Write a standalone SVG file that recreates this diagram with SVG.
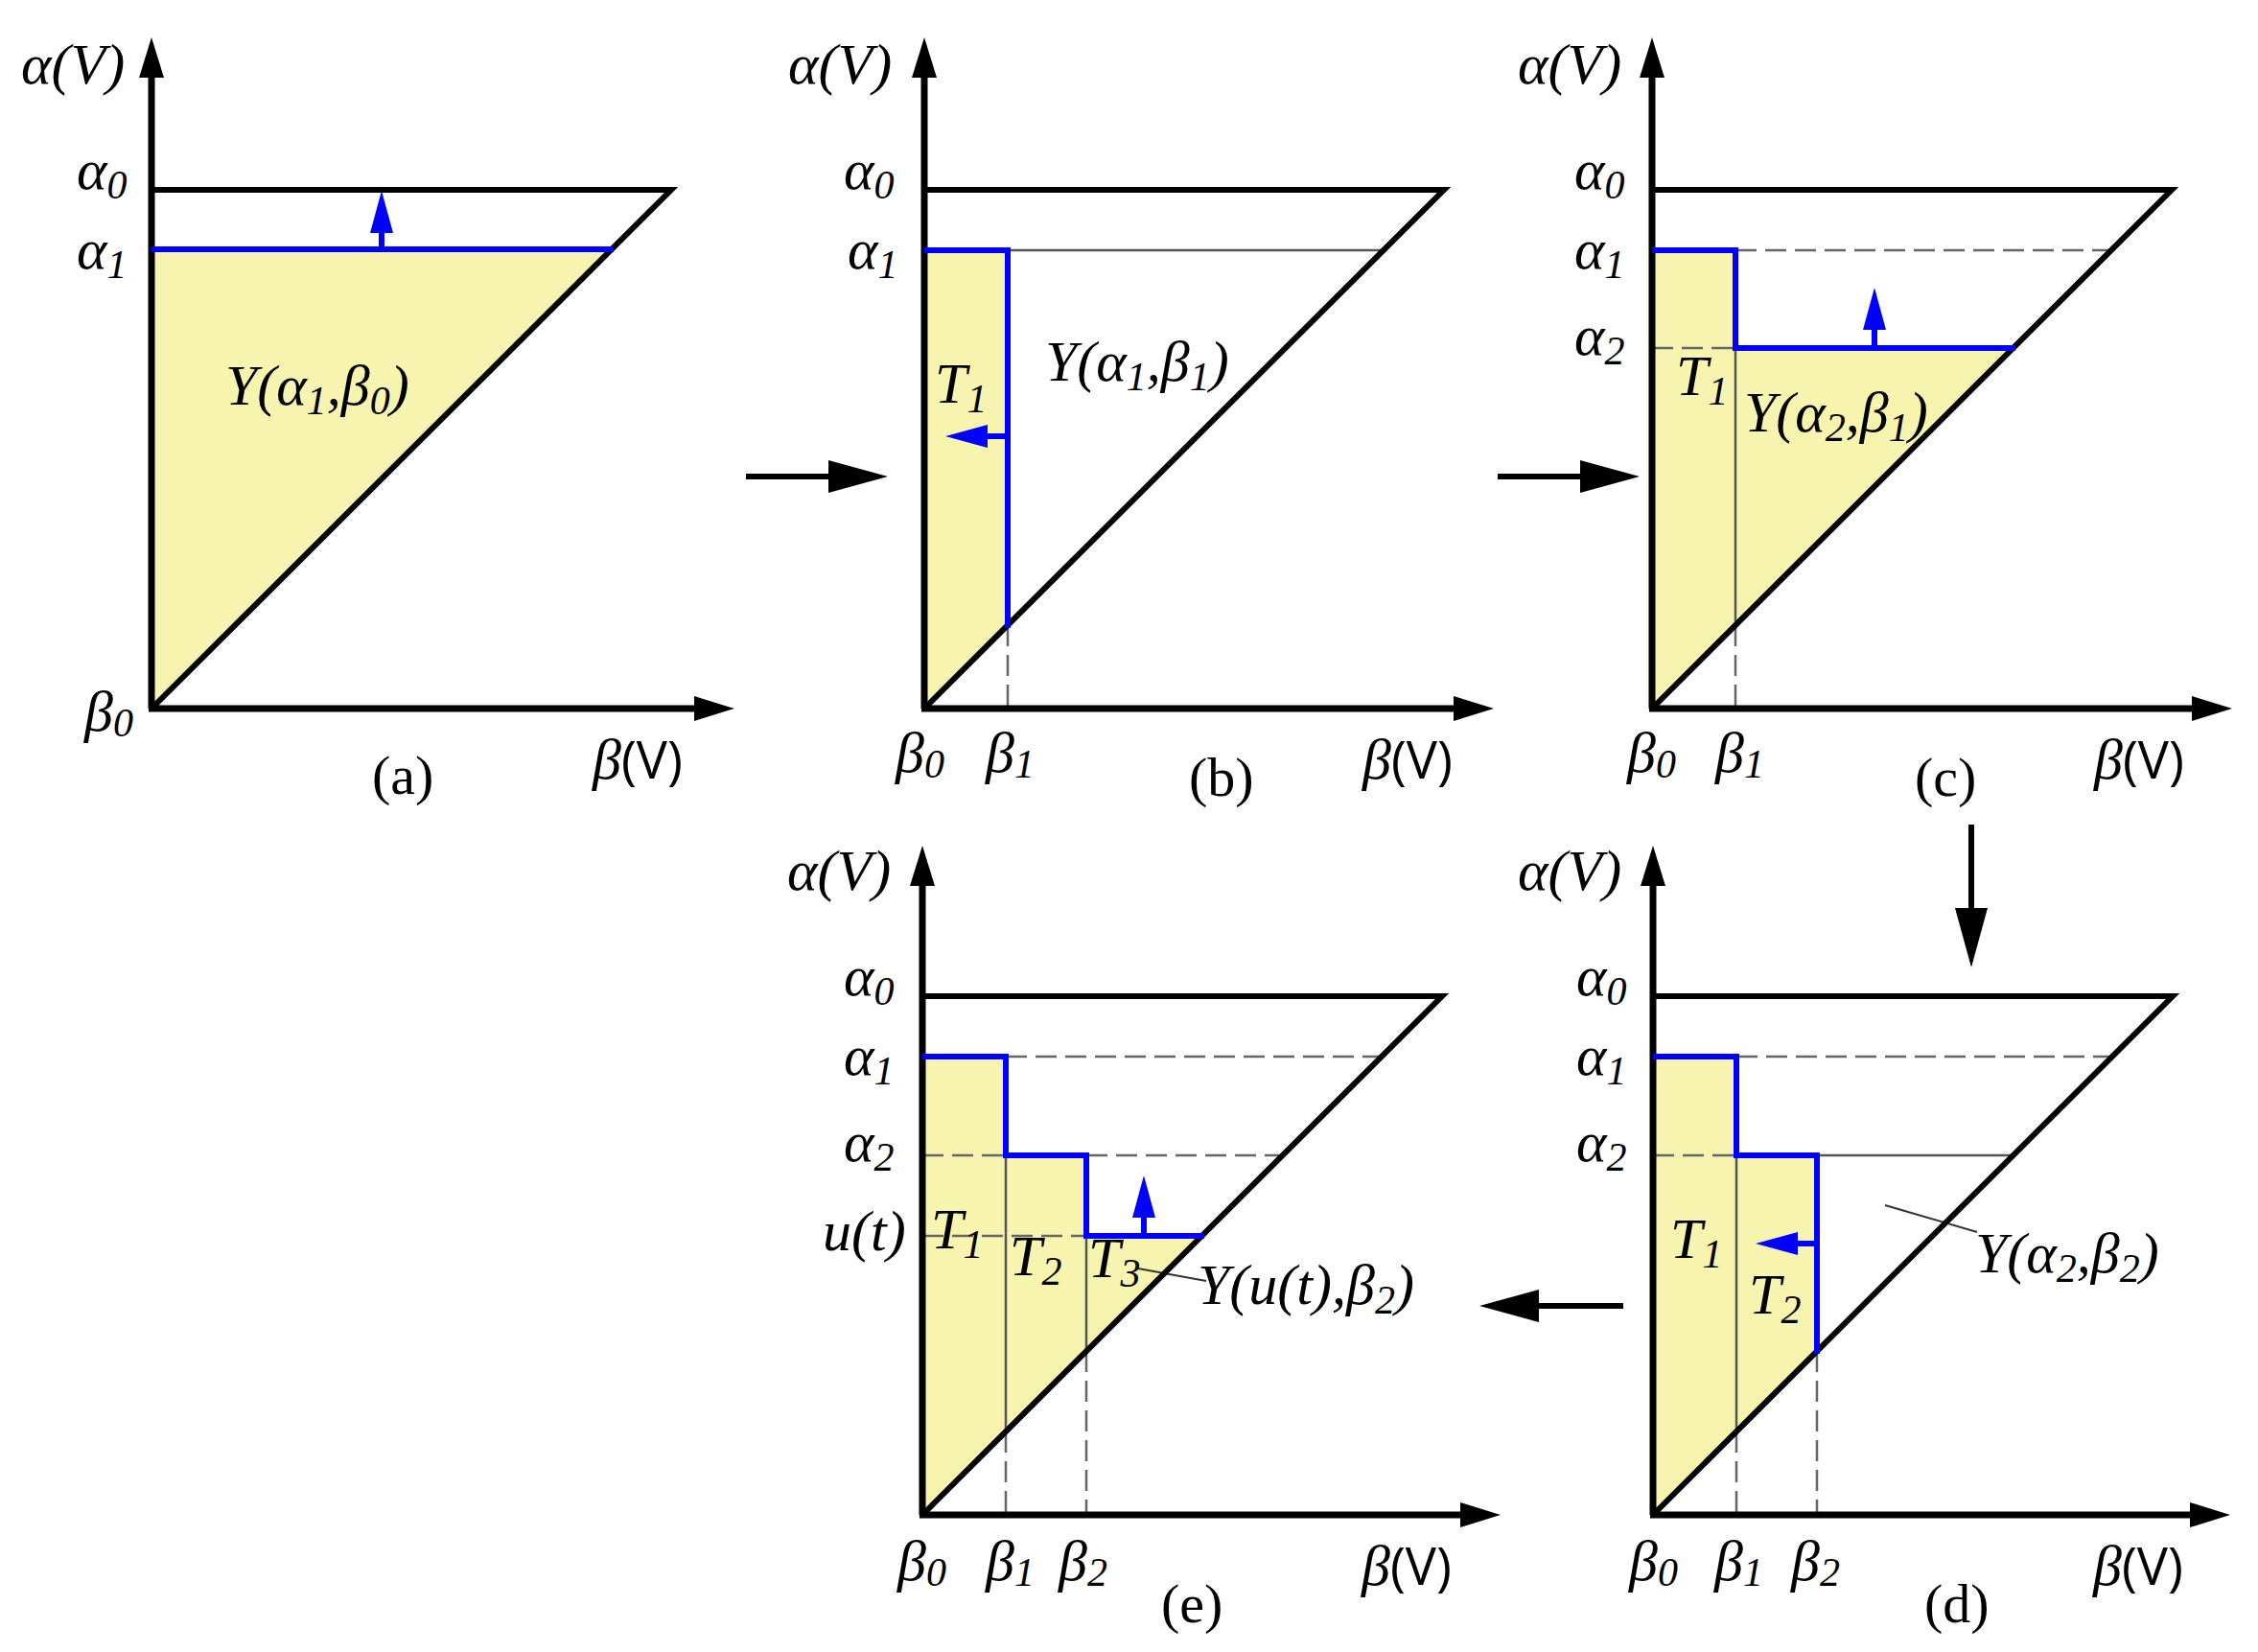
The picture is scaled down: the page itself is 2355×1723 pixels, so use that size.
<svg xmlns="http://www.w3.org/2000/svg" width="2355" height="1723" viewBox="0 0 2355 1723">
<style>
.bg{fill:#fff}
.fill{fill:#F7F4AF;stroke:none}
.ax{fill:none;stroke:#000;stroke-width:7}
.tri{fill:none;stroke:#000;stroke-width:6;stroke-linejoin:miter;stroke-miterlimit:20}
.blue{fill:none;stroke:#0000FF;stroke-width:6;stroke-linejoin:miter;stroke-linecap:square}
.barr{fill:none;stroke:#0000FF;stroke-width:6}
.dash{fill:none;stroke:#666;stroke-width:2.5;stroke-dasharray:22 9}
.thin{fill:none;stroke:#555;stroke-width:2.5}
.lead{fill:none;stroke:#333;stroke-width:2}
.flow{fill:none;stroke:#000;stroke-width:6}
.m{font-family:"Liberation Serif",serif;font-style:italic;font-size:60px;fill:#000}
.s{font-size:42px}
.v{font-family:"Open Sans","Liberation Sans",sans-serif;font-style:normal;font-size:54px}
.lab{font-family:"Liberation Serif",serif;font-size:58px;fill:#000}
</style>
<defs>
<marker id="axh" markerUnits="userSpaceOnUse" markerWidth="42" markerHeight="26" refX="2" refY="13" orient="auto"><path d="M0,0 L42,13 L0,26 z" fill="#000"/></marker>
<marker id="bh" markerUnits="userSpaceOnUse" markerWidth="44" markerHeight="24" refX="2" refY="12" orient="auto"><path d="M0,0 L44,12 L0,24 z" fill="#0000FF"/></marker>
<marker id="fh" markerUnits="userSpaceOnUse" markerWidth="62" markerHeight="34" refX="2" refY="17" orient="auto"><path d="M0,0 L62,17 L0,34 z" fill="#000"/></marker>
</defs>
<rect class="bg" x="0" y="0" width="2355" height="1723"/>

<g id="panel-a">
<polygon class="fill" points="158,260 637,260 158,739"/>
<path class="tri" d="M158,198 H700 L158,739"/>
<line class="ax" x1="158" y1="739" x2="158" y2="79" marker-end="url(#axh)"/>
<line class="ax" x1="155" y1="739" x2="726" y2="739" marker-end="url(#axh)"/>
<line class="blue" x1="161" y1="260" x2="637" y2="260"/>
<line class="barr" x1="398" y1="260" x2="398" y2="241" marker-end="url(#bh)"/>
<text class="m" x="22" y="87">α(V)</text>
<text class="m" x="80" y="197">α<tspan class="s" dy="10">0</tspan></text>
<text class="m" x="80" y="280">α<tspan class="s" dy="10">1</tspan></text>
<text class="m" x="235" y="422">Υ(α<tspan class="s" dy="10">1</tspan><tspan dy="-10">,β</tspan><tspan class="s" dy="10">0</tspan><tspan dy="-10">)</tspan></text>
<text class="m" x="88" y="762">β<tspan class="s" dy="6">0</tspan></text>
<text class="m" x="618" y="812">β<tspan class="v">(V)</tspan></text>
<text class="lab" x="388" y="828">(a)</text>
</g>

<g id="panel-b">
<polygon class="fill" points="964,261 1051,261 1051,652 964,739"/>
<line class="thin" x1="1051" y1="261" x2="1442" y2="261"/>
<line class="dash" x1="1051" y1="652" x2="1051" y2="739"/>
<path class="tri" d="M964,198 H1506 L964,739"/>
<line class="ax" x1="964" y1="739" x2="964" y2="79" marker-end="url(#axh)"/>
<line class="ax" x1="961" y1="739" x2="1518" y2="739" marker-end="url(#axh)"/>
<polyline class="blue" points="967,261 1051,261 1051,652"/>
<line class="barr" x1="1051" y1="455" x2="1028" y2="455" marker-end="url(#bh)"/>
<text class="m" x="822" y="87">α(V)</text>
<text class="m" x="880" y="197">α<tspan class="s" dy="10">0</tspan></text>
<text class="m" x="884" y="280">α<tspan class="s" dy="10">1</tspan></text>
<text class="m" x="975" y="420">T<tspan class="s" dy="10">1</tspan></text>
<text class="m" x="1090" y="397">Υ(α<tspan class="s" dy="10">1</tspan><tspan dy="-10">,β</tspan><tspan class="s" dy="10">1</tspan><tspan dy="-10">)</tspan></text>
<text class="m" x="934" y="805">β<tspan class="s" dy="6">0</tspan></text>
<text class="m" x="1028" y="805">β<tspan class="s" dy="6">1</tspan></text>
<text class="m" x="1421" y="812">β<tspan class="v">(V)</tspan></text>
<text class="lab" x="1240" y="830">(b)</text>
</g>

<g id="panel-c">
<polygon class="fill" points="1723,261 1810,261 1810,363 2099,363 1723,739"/>
<line class="dash" x1="1810" y1="261" x2="2201" y2="261"/>
<line class="dash" x1="1723" y1="363" x2="1810" y2="363"/>
<line class="thin" x1="1810" y1="363" x2="1810" y2="652"/>
<line class="dash" x1="1810" y1="652" x2="1810" y2="739"/>
<path class="tri" d="M1723,198 H2265 L1723,739"/>
<line class="ax" x1="1723" y1="739" x2="1723" y2="79" marker-end="url(#axh)"/>
<line class="ax" x1="1720" y1="739" x2="2288" y2="739" marker-end="url(#axh)"/>
<polyline class="blue" points="1726,261 1810,261 1810,363 2099,363"/>
<line class="barr" x1="1955" y1="363" x2="1955" y2="342" marker-end="url(#bh)"/>
<text class="m" x="1583" y="87">α(V)</text>
<text class="m" x="1642" y="197">α<tspan class="s" dy="10">0</tspan></text>
<text class="m" x="1642" y="280">α<tspan class="s" dy="10">1</tspan></text>
<text class="m" x="1642" y="370">α<tspan class="s" dy="10">2</tspan></text>
<text class="m" x="1748" y="412">T<tspan class="s" dy="10">1</tspan></text>
<text class="m" x="1819" y="450">Υ(α<tspan class="s" dy="10">2</tspan><tspan dy="-10">,β</tspan><tspan class="s" dy="10">1</tspan><tspan dy="-10">)</tspan></text>
<text class="m" x="1697" y="805">β<tspan class="s" dy="6">0</tspan></text>
<text class="m" x="1789" y="805">β<tspan class="s" dy="6">1</tspan></text>
<text class="m" x="2184" y="812">β<tspan class="v">(V)</tspan></text>
<text class="lab" x="1997" y="830">(c)</text>
</g>

<g id="panel-d">
<polygon class="fill" points="1724,1102 1811,1102 1811,1205 1895,1205 1895,1409 1724,1580"/>
<line class="dash" x1="1811" y1="1102" x2="2202" y2="1102"/>
<line class="dash" x1="1724" y1="1205" x2="1811" y2="1205"/>
<line class="thin" x1="1895" y1="1205" x2="2099" y2="1205"/>
<line class="thin" x1="1811" y1="1205" x2="1811" y2="1493"/>
<line class="dash" x1="1811" y1="1493" x2="1811" y2="1580"/>
<line class="dash" x1="1895" y1="1409" x2="1895" y2="1580"/>
<line class="lead" x1="1966" y1="1257" x2="2062" y2="1285"/>
<path class="tri" d="M1724,1039 H2266 L1724,1580"/>
<line class="ax" x1="1724" y1="1580" x2="1724" y2="922" marker-end="url(#axh)"/>
<line class="ax" x1="1721" y1="1580" x2="2286" y2="1580" marker-end="url(#axh)"/>
<polyline class="blue" points="1727,1102 1811,1102 1811,1205 1895,1205 1895,1409"/>
<line class="barr" x1="1895" y1="1297" x2="1873" y2="1297" marker-end="url(#bh)"/>
<text class="m" x="1583" y="928">α(V)</text>
<text class="m" x="1644" y="1038">α<tspan class="s" dy="10">0</tspan></text>
<text class="m" x="1644" y="1121">α<tspan class="s" dy="10">1</tspan></text>
<text class="m" x="1644" y="1211">α<tspan class="s" dy="10">2</tspan></text>
<text class="m" x="1742" y="1312">T<tspan class="s" dy="10">1</tspan></text>
<text class="m" x="1824" y="1370">T<tspan class="s" dy="10">2</tspan></text>
<text class="m" x="2060" y="1327">Υ(α<tspan class="s" dy="10">2</tspan><tspan dy="-10">,β</tspan><tspan class="s" dy="10">2</tspan><tspan dy="-10">)</tspan></text>
<text class="m" x="1699" y="1648">β<tspan class="s" dy="6">0</tspan></text>
<text class="m" x="1788" y="1648">β<tspan class="s" dy="6">1</tspan></text>
<text class="m" x="1868" y="1648">β<tspan class="s" dy="6">2</tspan></text>
<text class="m" x="2183" y="1653">β<tspan class="v">(V)</tspan></text>
<text class="lab" x="2007" y="1692">(d)</text>
</g>

<g id="panel-e">
<polygon class="fill" points="962,1102 1049,1102 1049,1205 1133,1205 1133,1289 1253,1289 962,1580"/>
<line class="dash" x1="1049" y1="1102" x2="1440" y2="1102"/>
<line class="dash" x1="962" y1="1205" x2="1049" y2="1205"/>
<line class="dash" x1="1133" y1="1205" x2="1337" y2="1205"/>
<line class="dash" x1="962" y1="1289" x2="1133" y2="1289"/>
<line class="thin" x1="1049" y1="1205" x2="1049" y2="1493"/>
<line class="dash" x1="1049" y1="1493" x2="1049" y2="1580"/>
<line class="thin" x1="1133" y1="1289" x2="1133" y2="1409"/>
<line class="dash" x1="1133" y1="1409" x2="1133" y2="1580"/>
<line class="lead" x1="1187" y1="1323" x2="1258" y2="1336"/>
<path class="tri" d="M962,1039 H1504 L962,1580"/>
<line class="ax" x1="962" y1="1580" x2="962" y2="922" marker-end="url(#axh)"/>
<line class="ax" x1="959" y1="1580" x2="1525" y2="1580" marker-end="url(#axh)"/>
<polyline class="blue" points="965,1102 1049,1102 1049,1205 1133,1205 1133,1289 1253,1289"/>
<line class="barr" x1="1193" y1="1289" x2="1193" y2="1268" marker-end="url(#bh)"/>
<text class="m" x="821" y="928">α(V)</text>
<text class="m" x="880" y="1038">α<tspan class="s" dy="10">0</tspan></text>
<text class="m" x="880" y="1121">α<tspan class="s" dy="10">1</tspan></text>
<text class="m" x="880" y="1211">α<tspan class="s" dy="10">2</tspan></text>
<text class="m" x="858" y="1304">u(t)</text>
<text class="m" x="971" y="1302">T<tspan class="s" dy="10">1</tspan></text>
<text class="m" x="1053" y="1330">T<tspan class="s" dy="10">2</tspan></text>
<text class="m" x="1135" y="1332">T<tspan class="s" dy="10">3</tspan></text>
<text class="m" x="1249" y="1360">Υ(u(t),β<tspan class="s" dy="10">2</tspan><tspan dy="-10">)</tspan></text>
<text class="m" x="936" y="1648">β<tspan class="s" dy="6">0</tspan></text>
<text class="m" x="1028" y="1648">β<tspan class="s" dy="6">1</tspan></text>
<text class="m" x="1104" y="1648">β<tspan class="s" dy="6">2</tspan></text>
<text class="m" x="1420" y="1653">β<tspan class="v">(V)</tspan></text>
<text class="lab" x="1211" y="1692">(e)</text>
</g>

<g id="connectors">
<line class="flow" x1="778" y1="497" x2="866" y2="497" marker-end="url(#fh)"/>
<line class="flow" x1="1562" y1="497" x2="1650" y2="497" marker-end="url(#fh)"/>
<line class="flow" x1="2056" y1="860" x2="2056" y2="949" marker-end="url(#fh)"/>
<line class="flow" x1="1693" y1="1362" x2="1603" y2="1362" marker-end="url(#fh)"/>
</g>
</svg>
